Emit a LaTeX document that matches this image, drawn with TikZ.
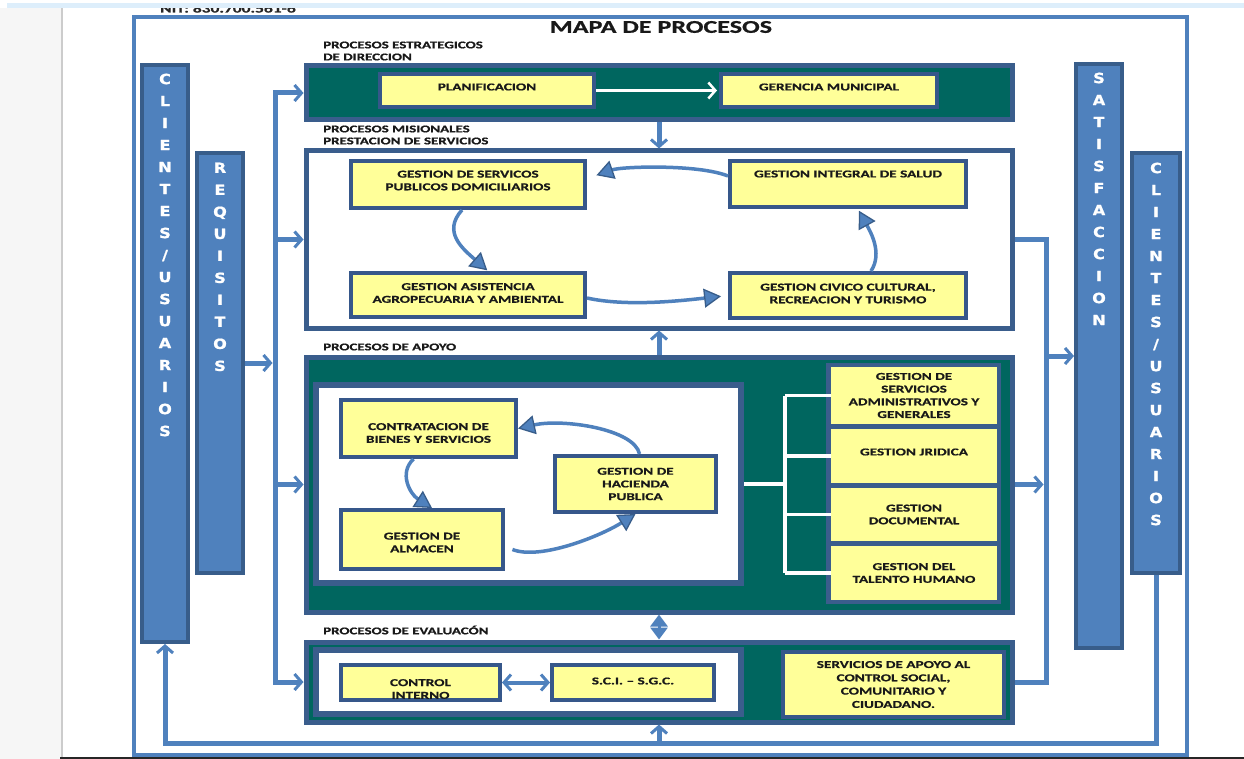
\documentclass[tikz,border=0pt]{standalone}
\usepackage{fontspec}
\setmainfont{Carlito}
\newfontfamily\cf[FakeStretch=1.45,FakeBold=0.8]{Carlito Bold}
\newfontfamily\vf[FakeStretch=1.15,FakeBold=1]{DejaVu Sans Bold}
\usetikzlibrary{arrows.meta}
\definecolor{teal1}{HTML}{00665F}
\definecolor{bblue}{HTML}{3A5D8C}
\definecolor{ybord}{HTML}{36578A}
\definecolor{yel}{HTML}{FFFF99}
\definecolor{lblue}{HTML}{4F81BD}
\definecolor{barb}{HTML}{385D8A}
\definecolor{strip}{HTML}{DDEEFB}
\definecolor{lgray}{HTML}{F6F6F6}
\newcommand\mybox[7]{\node[#6,minimum width={(#4-#2)*1pt},minimum height={(#5-#3)*1pt}] (#1) at ({(#2+#4)/2},{(#3+#5)/2}) {#7};}
\tikzset{
  cont/.style={draw=bblue,line width=5pt,inner sep=0pt},
  ybox/.style={fill=yel,draw=ybord,line width=4pt,inner sep=0pt},
  ystk/.style={fill=yel,inner sep=0pt},
  bar/.style={fill=lblue,draw=barb,line width=4pt,inner sep=0pt},
  btxt/.style={font=\cf\fontsize{10.5}{12.7}\selectfont,align=center,inner sep=0pt,text=black!90},
  vtxt/.style={font=\vf\fontsize{14}{22}\selectfont,align=center,inner sep=0pt,text=white,anchor=north},
  lbl/.style={font=\cf\fontsize{10.3}{12}\selectfont,align=left,inner sep=0pt,anchor=west,text=black!90},
  tipB/.tip={Straight Barb[length=7pt,width=16pt,line width=3pt]},
  tipT/.tip={Triangle[length=17pt,width=19pt,line width=1.3pt,color=barb,fill=lblue]},
  conn/.style={draw=lblue,line width=5pt},
  arr/.style={conn,-tipB},
  cyc/.style={draw=lblue,line width=3.5pt,-tipT},
  wline/.style={draw=white,line width=3.5pt},
}
\begin{document}
\begin{tikzpicture}[x=1pt,y=-1pt]
\useasboundingbox (0,0) rectangle (1244,759);
% page background
\fill[white] (0,0) rectangle (1244,759);
\fill[lgray] (0,8) rectangle (62,759);
\draw[black!20,line width=1.5pt] (62,8) -- (62,759);
\node[font=\cf\fontsize{12}{14}\selectfont,anchor=base west,inner sep=0pt,text=black!85] (nit) at (160,12.5) {NIT: 830.700.561-6};
\fill[white] (0,0) rectangle (1244,3);
\fill[strip] (7,3) rectangle (1244,8.3);
\draw[black!85,line width=2.5pt] (60,757.8) -- (1244,757.8);
% outer frame
\mybox{frame}{134}{17}{1187}{755}{draw=lblue,line width=4.5pt,inner sep=0pt}{}
% title and labels
\node[font=\cf\fontsize{18}{20}\selectfont,inner sep=0pt,text=black!90] (title) at (661,27) {MAPA DE PROCESOS};
\node[lbl] (lbS) at (323,51) {PROCESOS ESTRATEGICOS\\DE DIRECCION};
\node[lbl] (lbM) at (323,135) {PROCESOS MISIONALES\\PRESTACION DE SERVICIOS};
\node[lbl] (lbA) at (323,347) {PROCESOS DE APOYO};
\node[lbl] (lbE) at (323,630) {PROCESOS DE EVALUACÓN};
% containers
\mybox{strat}{306}{66}{1012}{120}{cont,fill=teal1}{}
\mybox{mis}{306}{151}{1012}{328}{cont,fill=white}{}
\mybox{apoyo}{306}{357}{1012}{612}{cont,fill=teal1}{}
\mybox{eval}{306}{642}{1012}{722}{cont,fill=teal1}{}
\mybox{apW}{316}{385}{741}{583}{cont,fill=white,line width=6pt}{}
\mybox{evW}{316}{650}{741}{714}{cont,fill=white,line width=6pt}{}
\mybox{stack}{826}{363}{1001}{604}{fill=bblue,inner sep=0pt}{}
% bars
\mybox{cl1}{142}{65}{188}{642}{bar}{}
\mybox{req}{197}{153}{243}{573}{bar}{}
\mybox{sat}{1076}{64}{1122}{648}{bar}{}
\mybox{cl2}{1132}{153}{1180}{573}{bar}{}
\node[vtxt] (cl1t) at ([yshift=-10.5pt]cl1.north) {C\\L\\I\\E\\N\\T\\E\\S\\/\\U\\S\\U\\A\\R\\I\\O\\S};
\node[vtxt] (reqt) at ([yshift=-11.5pt]req.north) {R\\E\\Q\\U\\I\\S\\I\\T\\O\\S};
\node[vtxt] (satt) at ([yshift=-10.5pt]sat.north) {S\\A\\T\\I\\S\\F\\A\\C\\C\\I\\O\\N};
\node[vtxt] (cl2t) at ([yshift=-11.5pt]cl2.north) {C\\L\\I\\E\\N\\T\\E\\S\\/\\U\\S\\U\\A\\R\\I\\O\\S};
% yellow boxes
\mybox{plan}{380}{74}{594}{107}{ybox}{}
\mybox{ger}{721}{74}{937}{107}{ybox}{}
\mybox{serv}{351}{161}{585}{208}{ybox}{}
\mybox{salud}{730}{161}{966}{207}{ybox}{}
\mybox{agro}{351}{273}{585}{317}{ybox}{}
\mybox{civ}{730}{273}{966}{318}{ybox}{}
\mybox{contr}{341}{400}{516}{457}{ybox}{}
\mybox{haci}{555}{456}{716}{512}{ybox}{}
\mybox{alm}{341}{510}{503}{569}{ybox}{}
\mybox{admin}{831}{367}{997}{424}{ystk}{}
\mybox{jur}{831}{429}{997}{483}{ystk}{}
\mybox{doc}{831}{488}{997}{541}{ystk}{}
\mybox{tal}{831}{546}{997}{600}{ystk}{}
\mybox{ci}{341}{665}{500}{700}{ybox}{}
\mybox{sci}{552}{665}{714}{700}{ybox}{}
\mybox{sap}{783}{652}{1004}{717}{ybox}{}
% texts
\node[btxt] (planT) at ([yshift=3.5pt]plan.center) {PLANIFICACION};
\node[btxt] (gerT) at ([yshift=3.5pt]ger.center) {GERENCIA MUNICIPAL};
\node[btxt] (servT) at ([yshift=4pt]serv.center) {GESTION DE SERVICOS\\PUBLICOS DOMICILIARIOS};
\node[btxt] (saludT) at ([yshift=10pt]salud.center) {GESTION INTEGRAL DE SALUD};
\node[btxt] (agroT) at ([yshift=2pt]agro.center) {GESTION ASISTENCIA\\AGROPECUARIA Y AMBIENTAL};
\node[btxt] (civT) at ([yshift=2pt]civ.center) {GESTION CIVICO CULTURAL,\\RECREACION Y TURISMO};
\node[btxt] (contrT) at ([yshift=-4.5pt]contr.center) {CONTRATACION DE\\BIENES Y SERVICIOS};
\node[btxt] (haciT) at (haci.center) {GESTION DE\\HACIENDA\\PUBLICA};
\node[btxt] (almT) at ([yshift=-3pt]alm.center) {GESTION DE\\ALMACEN};
\node[btxt] (adminT) at (admin.center) {GESTION DE\\SERVICIOS\\ADMINISTRATIVOS Y\\GENERALES};
\node[btxt] (jurT) at ([yshift=4pt]jur.center) {GESTION JRIDICA};
\node[btxt] (docT) at (doc.center) {GESTION\\DOCUMENTAL};
\node[btxt] (talT) at (tal.center) {GESTION DEL\\TALENTO HUMANO};
\node[btxt] (sciT) at ([yshift=1.5pt]sci.center) {S.C.I. – S.G.C.};
\node[btxt,font=\cf\fontsize{10.5}{13.3}\selectfont] (sapT) at (sap.center) {SERVICIOS DE APOYO AL\\CONTROL SOCIAL,\\COMUNITARIO Y\\CIUDADANO.};
\begin{scope}
\clip ([shift={(2pt,-2pt)}]ci.north west) rectangle ([shift={(-2pt,4pt)}]ci.south east);
\node[btxt] (ciT) at ([yshift=-6.5pt]ci.center) {CONTROL\\INTERNO};
\end{scope}
% helper coordinates
\coordinate (trunk) at (275,0);
\coordinate (rtr) at (1046,0);
\coordinate (brk) at (785,0);
\coordinate (bot) at (0,743);
% left trunk
\draw[arr] (trunk |- eval.west) -- (trunk |- strat.west) -- (strat.west);
\draw[arr] (trunk |- strat.west) -- (trunk |- eval.west) -- (eval.west);
\draw[arr] (trunk |- mis.west) -- (mis.west);
\draw[arr] (trunk |- apoyo.west) -- (apoyo.west);
\draw[arr,shorten >=2.5pt] (req.east) -- (trunk |- req.east);
% right trunk
\draw[conn] (mis.east) -- (rtr |- mis.east) -- (rtr |- eval.east) -- (eval.east);
\draw[arr,shorten >=2.5pt] (apoyo.east) -- (rtr |- apoyo.east);
\draw[arr] (rtr |- sat.west) -- (sat.west);
% bottom loop
\draw[arr] (cl2.south) -- (cl2.south |- bot) -- (cl1.south |- bot) -- (cl1.south);
\draw[arr] (eval.south |- bot) -- (eval.south);
% vertical links
\draw[arr] (strat.south) -- (mis.north);
\draw[arr] (apoyo.north) -- (mis.south);
\draw[draw=lblue,line width=3pt,{Triangle[length=12pt,width=17pt]}-{Triangle[length=12pt,width=17pt]}] (apoyo.south) -- (eval.north);
% strategic arrow
\draw[white,line width=3pt,-{Straight Barb[length=7pt,width=16pt,line width=2.5pt]},shorten >=2pt] (plan.east) -- (ger.west);
% misional cycle
\draw[cyc,shorten >=10pt] ([yshift=8pt]salud.west) .. controls +(-30,-12) and +(35,-12) .. ([yshift=6pt]serv.east);
\draw[cyc,shorten >=1pt] ([xshift=-6pt]serv.south) .. controls +(-20,22) and +(-25,-22) .. ([xshift=20pt]agro.north);
\draw[cyc,shorten >=7pt] ([yshift=-3pt]agro.east) .. controls +(40,9) and +(-45,5) .. (civ.west);
\draw[cyc,shorten >=2pt] ([xshift=23pt]civ.north) .. controls +(12,-18) and +(12,22) .. ([xshift=10pt]salud.south);
% apoyo cycle
\draw[cyc] ([xshift=4pt]haci.north) .. controls +(-5,-25) and +(45,-10) .. (contr.east);
\draw[cyc] ([xshift=-15pt]contr.south) .. controls +(-15,14) and +(-22,-14) .. ([xshift=10pt]alm.north);
\draw[cyc,shorten <=8pt] ([yshift=-7pt]alm.east) .. controls +(35,14) and +(-35,22) .. (haci.south);
% bracket
\draw[wline] (apW.east) -- (brk |- apW.east);
\draw[wline] (brk |- admin.west) -- (brk |- tal.west);
\draw[wline] (brk |- admin.west) -- (admin.west);
\draw[wline] (brk |- jur.west) -- (jur.west);
\draw[wline] (brk |- doc.west) -- (doc.west);
\draw[wline] (brk |- tal.west) -- (tal.west);
% eval double arrow
\draw[draw=lblue,line width=4pt,tipB-tipB] (ci.east) -- (sci.west);
\end{tikzpicture}
\end{document}
